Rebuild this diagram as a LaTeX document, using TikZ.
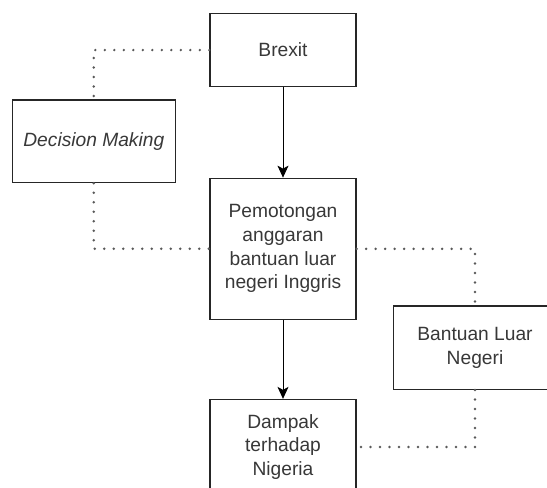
\documentclass[tikz,border=0pt]{standalone}
\usepackage{fontspec}
\setmainfont{Liberation Sans}
\usetikzlibrary{arrows.meta}

\begin{document}
\begin{tikzpicture}[x=0.5pt,y=-0.5pt]
    % Define styles
    \tikzset{
        box/.style={rectangle, draw=black!85, line width=0.65pt, text=black!78, align=center, inner sep=0pt, font=\fontsize{9.6}{11.85}\selectfont},
        link/.style={draw=black!65, line width=1.35pt, line cap=round, dash pattern=on 0pt off 4.75pt},
        arrow/.style={-{Stealth[length=6pt,width=5.5pt,inset=1.5pt]}, line width=0.5pt}
    }
    \path[use as bounding box, clip] (0,0) rectangle (547,488);

    % Nodes
    \node[box, minimum width=73pt, minimum height=36.3pt] (brexit_node) at (283,50) {Brexit};
    \node[box, minimum width=81.5pt, minimum height=41.3pt] (decision_node) at (93.8,141.3) {\textit{Decision Making}};
    \node[box, minimum width=73pt, minimum height=70.5pt] (cut_node) at (283,248.8) {Pemotongan\\anggaran\\bantuan luar\\negeri Inggris};
    \node[box, minimum width=81.5pt, minimum height=41.7pt] (aid_node) at (475,347.7) {Bantuan Luar\\Negeri};
    \node[box, minimum width=73pt, minimum height=47.5pt] (impact_node) at (283,447) {Dampak\\terhadap\\Nigeria};

    % Arrows
    \draw[arrow] (brexit_node) -- (cut_node);
    \draw[arrow] (cut_node) -- (impact_node);

    % Dotted links
    \draw[link] (brexit_node.west) -| (decision_node.north);
    \draw[link] (decision_node.south) |- (cut_node.west);
    \draw[link] (cut_node.east) -| (aid_node.north);
    \draw[link] (aid_node.south) |- (impact_node.east);
\end{tikzpicture}
\end{document}
